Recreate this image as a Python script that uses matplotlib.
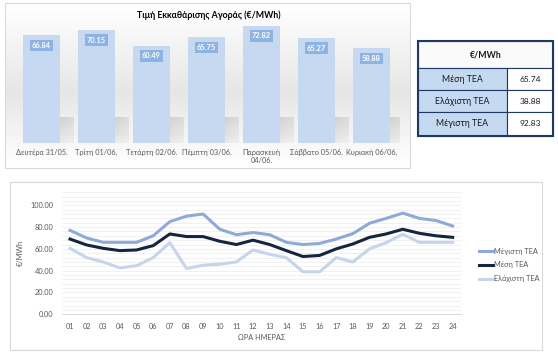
import matplotlib
matplotlib.use("Agg")
import matplotlib.pyplot as plt
import numpy as np
from matplotlib.patches import Rectangle
from matplotlib.ticker import MultipleLocator, FormatStrFormatter

plt.rcParams['font.family'] = ['Lato', 'DejaVu Sans']

# ---------------- data ----------------
days = ["Δευτέρα 31/05.", "Τρίτη 01/06.", "Τετάρτη 02/06.", "Πέμπτη 03/06.",
        "Παρασκευή\n04/06.", "Σάββατο 05/06.", "Κυριακή 06/06."]
daily_price = [66.84, 70.15, 60.49, 65.75, 72.82, 65.27, 58.88]
bar_title = "Τιμή Εκκαθάρισης Αγοράς (€/MWh)"

table_header = "€/MWh"
table_labels = ["Μέση TEA", "Ελάχιστη TEA", "Μέγιστη TEA"]
table_values = [65.74, 38.88, 92.83]

hours = [f"{h:02d}" for h in range(1, 25)]
max_tea = [77, 70, 66, 66, 66, 72, 85, 90, 92, 78, 73, 75,
           73, 66, 64, 65, 69, 74, 83.5, 88, 92.8, 88, 86, 81]
mean_tea = [69, 63.6, 60.5, 58.4, 59, 63, 73.7, 71.3, 71.3, 67, 64, 68,
            64, 58.4, 53, 54, 60, 64.5, 70.6, 73.7, 78, 74.3, 72, 70.6]
min_tea = [60.5, 52, 48, 42.5, 44.6, 52, 65.7, 42, 45, 46, 48, 59,
           55, 52, 39, 38.9, 52, 48, 60, 65.7, 73.4, 66, 66, 66]
series_names = ["Μέγιστη TEA", "Μέση TEA", "Ελάχιστη TEA"]
xlabel = "ΩΡΑ ΗΜΕΡΑΣ"
ylabel = "€/MWh"

# ---------------- figure ----------------
W, H = 558, 357
fig = plt.figure(figsize=(W / 100, H / 100), dpi=100)


def rect(left, top, w, h):
    return [left / W, 1 - (top + h) / H, w / W, h / H]


# background / decoration axes in pixel coords
bg = fig.add_axes([0, 0, 1, 1], zorder=0)
bg.set_xlim(0, W)
bg.set_ylim(H, 0)
bg.axis('off')

# top panel gradient
g = np.concatenate([np.linspace(1.0, 0.90, 90), np.linspace(0.90, 1.0, 75)])
grad = np.tile(g[:, None], (1, 10))
bg.imshow(grad, cmap='gray', vmin=0, vmax=1, extent=(5, 410, 168, 3),
          origin='upper', aspect='auto', zorder=0)
bg.add_patch(Rectangle((5, 3), 405, 165, fill=False, ec='#d9d9d9', lw=0.8, zorder=1))
bg.text(209, 15, bar_title, ha='center', va='center', fontsize=6.3,
        fontweight='bold', color='#000000')

# bottom panel border
bg.add_patch(Rectangle((10, 182), 532, 168, fill=False, ec='#d9d9d9', lw=0.8, zorder=1))

# ---------------- bar chart ----------------
axb = fig.add_axes(rect(14, 22, 385, 121), zorder=2)
axb.patch.set_alpha(0)
xb = np.arange(len(days))
axb.set_xlim(-0.5, len(days) - 0.5)
axb.set_ylim(0, 121 / 1.61)

# shadows
for i in xb:
    sh = np.zeros((20, 20, 4))
    sh[..., :3] = 0.55
    va = np.linspace(0.5, 0.2, 20)[:, None]
    ha = np.linspace(1.0, 0.4, 20)[None, :]
    sh[..., 3] = va * ha
    axb.imshow(sh, extent=(i - 0.2, i + 0.58, 0, 16), origin='upper',
               aspect='auto', zorder=2, interpolation='bilinear')

axb.bar(xb, daily_price, width=0.69, color='#c6d9f1', zorder=3)
for i, v in zip(xb, daily_price):
    axb.text(i, v - 6.3, f"{v:.2f}", ha='center', va='center', color='white',
             fontsize=5.4, fontweight='bold', zorder=4,
             bbox=dict(boxstyle='square,pad=0.3', fc='#8db3e2', ec='none'))
axb.set_xticks(xb)
axb.set_xticklabels(days, fontsize=5.3, color='#595959', linespacing=1.3)
axb.tick_params(axis='x', length=0, pad=4)
axb.set_yticks([])
for s in axb.spines.values():
    s.set_visible(False)

# ---------------- table ----------------
tx0, tx1, tmid = 418, 553, 507
row_tops = [41, 68, 90, 112, 136]
bg.add_patch(Rectangle((tx0, row_tops[0]), tx1 - tx0, row_tops[1] - row_tops[0],
                       fc='#fafafa', ec='#1f3864', lw=0.8, zorder=3))
bg.text((tx0 + tx1) / 2, (row_tops[0] + row_tops[1]) / 2, table_header,
        ha='center', va='center', fontsize=6.3, fontweight='bold', color='#1a1a1a', zorder=5)
for r, (lab, val) in enumerate(zip(table_labels, table_values)):
    t0, t1 = row_tops[r + 1], row_tops[r + 2]
    bg.add_patch(Rectangle((tx0, t0), tmid - tx0, t1 - t0, fc='#c5d9f1',
                           ec='#1f3864', lw=0.8, zorder=3))
    bg.add_patch(Rectangle((tmid, t0), tx1 - tmid, t1 - t0, fc='white',
                           ec='#1f3864', lw=0.8, zorder=3))
    bg.text((tx0 + tmid) / 2, (t0 + t1) / 2, lab, ha='center', va='center',
            fontsize=6.3, color='#1a1a1a', zorder=5)
    bg.text((tmid + tx1) / 2, (t0 + t1) / 2, f"{val:.2f}", ha='center', va='center',
            fontsize=6.0, color='#1a1a1a', zorder=5)
bg.add_patch(Rectangle((tx0, row_tops[0]), tx1 - tx0, row_tops[-1] - row_tops[0],
                       fill=False, ec='#1f3864', lw=1.5, zorder=4))

# ---------------- line chart ----------------
axl = fig.add_axes(rect(61.7, 192.2, 399.3, 122.1), zorder=2)
axl.patch.set_alpha(0)
xh = np.arange(1, len(hours) + 1)
axl.set_xlim(0.5, len(hours) + 0.5)
axl.set_ylim(0, 112)
axl.yaxis.set_major_locator(MultipleLocator(20))
axl.yaxis.set_minor_locator(MultipleLocator(4))
axl.yaxis.set_major_formatter(FormatStrFormatter('%.2f'))
axl.grid(which='both', axis='y', color='#ebebeb', lw=0.5)
axl.set_axisbelow(True)
for s in ['top', 'right', 'left']:
    axl.spines[s].set_visible(False)
axl.spines['bottom'].set_color('#d9d9d9')
axl.spines['bottom'].set_linewidth(0.7)

colors = ['#8eaad8', '#15253f', '#c6d5ec']
for vals, name, c in zip([max_tea, mean_tea, min_tea], series_names, colors):
    axl.plot(xh, vals, color=c, lw=2.2, label=name, solid_joinstyle='round')

axl.set_xticks(xh)
axl.set_xticklabels(hours)
axl.tick_params(axis='both', which='both', length=0, labelsize=5.3,
                labelcolor='#595959')
axl.tick_params(axis='x', pad=6)
axl.tick_params(axis='y', pad=6)
axl.set_xlabel(xlabel, fontsize=5.3, color='#595959', labelpad=3)
axl.set_ylabel(ylabel, fontsize=5.3, color='#595959', labelpad=5)

fig.legend(loc='center left', bbox_to_anchor=(472 / W, 1 - 265 / H),
           frameon=False, fontsize=5.3, labelcolor='#595959',
           handlelength=2.0, handletextpad=0.1, labelspacing=0.9)

fig.savefig('out.png', dpi=100)
